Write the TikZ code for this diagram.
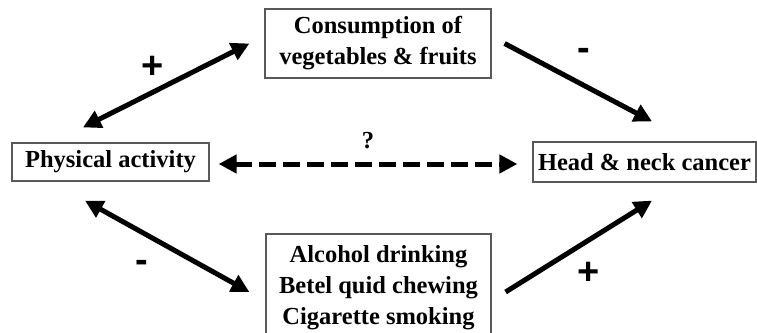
\documentclass[tikz,border=0pt]{standalone}
\usepackage{fontspec}
\setmainfont{Liberation Serif}
\newfontfamily\signfont{Liberation Sans}
\usetikzlibrary{arrows.meta}
\begin{document}
\begin{tikzpicture}[x=1pt,y=-1pt,
  factor/.style={draw=black!65,line width=1.2pt,inner sep=0pt,align=center,
    font=\fontsize{24.5}{31}\selectfont\bfseries},
  link/.style={line width=5pt,-{Triangle[length=18pt,width=18pt]}},
  twoway/.style={line width=5pt,{Triangle[length=18pt,width=18pt]}-{Triangle[length=18pt,width=18pt]}},
  sign/.style={font=\fontsize{38}{38}\selectfont\signfont\bfseries}]
\clip (0,0) rectangle (757,332);
\fill[white] (0,0) rectangle (757,332);
% the four boxes
\node[factor,minimum width=197pt,minimum height=38pt] (pa) at (110.5,162) {Physical activity};
\node[factor,minimum width=226pt,minimum height=69pt] (cons) at (378,43.5) {Consumption of\\vegetables \& fruits};
\node[factor,minimum width=223pt,minimum height=40pt] (hn) at (644.5,162) {Head \& neck cancer};
\node[factor,minimum width=225pt,minimum height=108pt] (habits) at (378.5,288) {Alcohol drinking\\Betel quid chewing\\Cigarette smoking};
% arrows
\draw[twoway] ([shift={(-27.5,-15)}]pa.north) -- ([shift={(-15,0)}]cons.west);
\draw[twoway] ([shift={(-25.5,19)}]pa.south) -- ([shift={(-16,4)}]habits.west);
\draw[link] ([shift={(13,0)}]cons.east) -- ([shift={(7.5,-20)}]hn.north);
\draw[link] ([shift={(14,4)}]habits.east) -- ([shift={(7.5,18)}]hn.south);
\draw[twoway,dash pattern=on 17pt off 7pt] ([shift={(9,2)}]pa.east) -- ([shift={(-15,2)}]hn.west) node[midway,above=9pt,font=\fontsize{24.5}{30}\selectfont\bfseries] (q) {?};
% signs
\node[sign] (plus1) at (153,67) {+};
\node[sign] (minus1) at (142,266) {-};
\node[sign] (minus2) at (584,54) {-};
\node[sign] (plus2) at (589,273) {+};
\end{tikzpicture}
\end{document}
